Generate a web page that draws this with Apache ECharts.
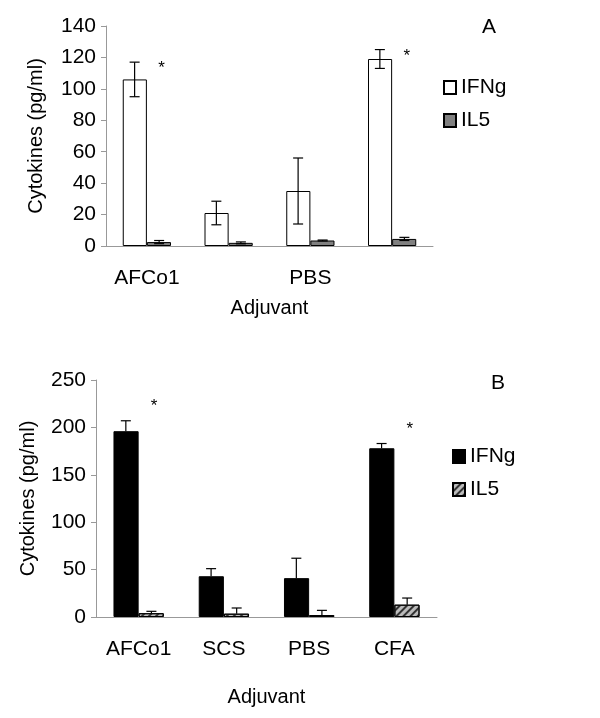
<!DOCTYPE html>
<html><head><meta charset="utf-8">
<script src="https://cdn.jsdelivr.net/npm/echarts@6/dist/echarts.min.js"></script>
<style>html,body{margin:0;background:#fff}#c{width:600px;height:718px}</style>
</head><body><div id="c"></div>
<script>
const categories = ["AFCo1", "SCS", "PBS", "CFA"];
// panel A
const ifngA = [106, 21, 35, 119];
const ifngAErr = [11, 7.5, 21, 6];
const il5A = [2.5, 2, 3.5, 4.5];
const il5AErr = [1, 0.6, 0.3, 1];
const starsA = [0, 3];
// panel B
const ifngB = [196, 43, 41, 178];
const ifngBErr = [11, 8, 21, 5];
const il5B = [4, 3.5, 2, 13];
const il5BErr = [2, 6, 5, 7];
const starsB = [0, 3];

const font = "Liberation Sans, Arial, sans-serif";
const chart = echarts.init(document.getElementById("c"));

function errSeries(vals, errs, axis, offset, both) {
	return {
		type: "custom", xAxisIndex: axis, yAxisIndex: axis, z: 5,
		data: vals.map((v, i) => [i, v, errs[i]]),
		renderItem(params, api) {
			const i = api.value(0), v = api.value(1), e = api.value(2);
			const w = api.size([1, 0])[0];
			const x = api.coord([i, 0])[0] + offset * w;
			const top = api.coord([i, v + e])[1];
			const bot = api.coord([i, both ? v - e : v])[1];
			const s = { stroke: "#000", lineWidth: 1.2 };
			const ch = [
				{ type: "line", shape: { x1: x, y1: top, x2: x, y2: bot }, style: s },
				{ type: "line", shape: { x1: x - 5, y1: top, x2: x + 5, y2: top }, style: s }
			];
			if (both) ch.push({ type: "line", shape: { x1: x - 5, y1: bot, x2: x + 5, y2: bot }, style: s });
			return { type: "group", children: ch };
		}
	};
}

function starSeries(idx, ifng, il5, errs, axis, lift) {
	return {
		type: "custom", xAxisIndex: axis, yAxisIndex: axis, z: 6,
		data: idx.map(i => [i, ifng[i] + errs[i] + lift]),
		renderItem(params, api) {
			const w = api.size([1, 0])[0];
			const p = api.coord([api.value(0), api.value(1)]);
			return { type: "text", style: { x: p[0] + 0.18 * w, y: p[1], text: "*", font: "17px " + font, fill: "#000", align: "center", verticalAlign: "middle" } };
		}
	};
}

function xAx(i) {
	return {
		type: "category", gridIndex: i, data: categories,
		axisLine: { lineStyle: { color: "#999" } },
		axisTick: { inside: false, length: 8, lineStyle: { color: "#999" } },
		axisLabel: { color: "#000", fontSize: 21, fontFamily: font, margin: 22 },
		name: "Adjuvant", nameLocation: "middle", nameGap: i === 0 ? 52 : 70,
		nameTextStyle: { color: "#000", fontSize: 20, fontFamily: font }
	};
}
function yAx(i, max, step) {
	return {
		type: "value", gridIndex: i, min: 0, max: max, interval: step,
		axisLine: { show: true, lineStyle: { color: "#999" } },
		axisTick: { show: true, length: 5, lineStyle: { color: "#999" } },
		splitLine: { show: false },
		axisLabel: { color: "#000", fontSize: 21, fontFamily: font, margin: 10 },
		name: "Cytokines (pg/ml)", nameLocation: "middle", nameGap: i === 0 ? 60 : 58,
		nameTextStyle: { color: "#000", fontSize: 20, fontFamily: font }
	};
}

const barCommon = { type: "bar", barGap: "0%", barCategoryGap: "41%" };
const legText = { fontSize: 21, fontFamily: font, color: "#000" };

chart.setOption({
	animation: false,
	grid: [
		{ left: 106, right: 167, top: 26, height: 220 },
		{ left: 96, right: 163, top: 380, height: 237 }
	],
	xAxis: [xAx(0), xAx(1)],
	yAxis: [yAx(0, 140, 20), yAx(1, 250, 50)],
	legend: [
		{ data: ["IFNg", "IL5"], orient: "vertical", left: 438, top: 72, itemGap: 12, itemWidth: 12, itemHeight: 13,
			icon: "rect", textStyle: legText },
		{ data: ["IFNg ", "IL5 "], orient: "vertical", left: 447, top: 441, itemGap: 12, itemWidth: 12, itemHeight: 13,
			icon: "rect", textStyle: legText }
	],
	graphic: [
		{ type: "text", left: 482, top: 17, style: { text: "A", font: "21px " + font, fill: "#000" } },
		{ type: "text", left: 491, top: 373, style: { text: "B", font: "21px " + font, fill: "#000" } }
	],
	series: [
		{ ...barCommon, name: "IFNg", xAxisIndex: 0, yAxisIndex: 0, data: ifngA,
			itemStyle: { color: "#fff", borderColor: "#000", borderWidth: 1 } },
		{ ...barCommon, name: "IL5", xAxisIndex: 0, yAxisIndex: 0, data: il5A,
			itemStyle: { color: "#808080", borderColor: "#000", borderWidth: 1 } },
		errSeries(ifngA, ifngAErr, 0, -0.15, true),
		errSeries(il5A, il5AErr, 0, 0.15, true),
		starSeries(starsA, ifngA, il5A, ifngAErr, 0, -4),
		{ ...barCommon, name: "IFNg ", xAxisIndex: 1, yAxisIndex: 1, data: ifngB,
			itemStyle: { color: "#000", borderColor: "#000", borderWidth: 1 } },
		{ ...barCommon, name: "IL5 ", xAxisIndex: 1, yAxisIndex: 1, data: il5B,
			itemStyle: { color: "#bbb", borderColor: "#000", borderWidth: 1,
				decal: { symbol: "rect", dashArrayX: [1, 0], dashArrayY: [2, 3], rotation: -Math.PI / 4, color: "#333" } } },
		errSeries(ifngB, ifngBErr, 1, -0.15, false),
		errSeries(il5B, il5BErr, 1, 0.15, false),
		starSeries(starsB, ifngB, il5B, ifngBErr, 1, 15)
	]
});
</script></body></html>
